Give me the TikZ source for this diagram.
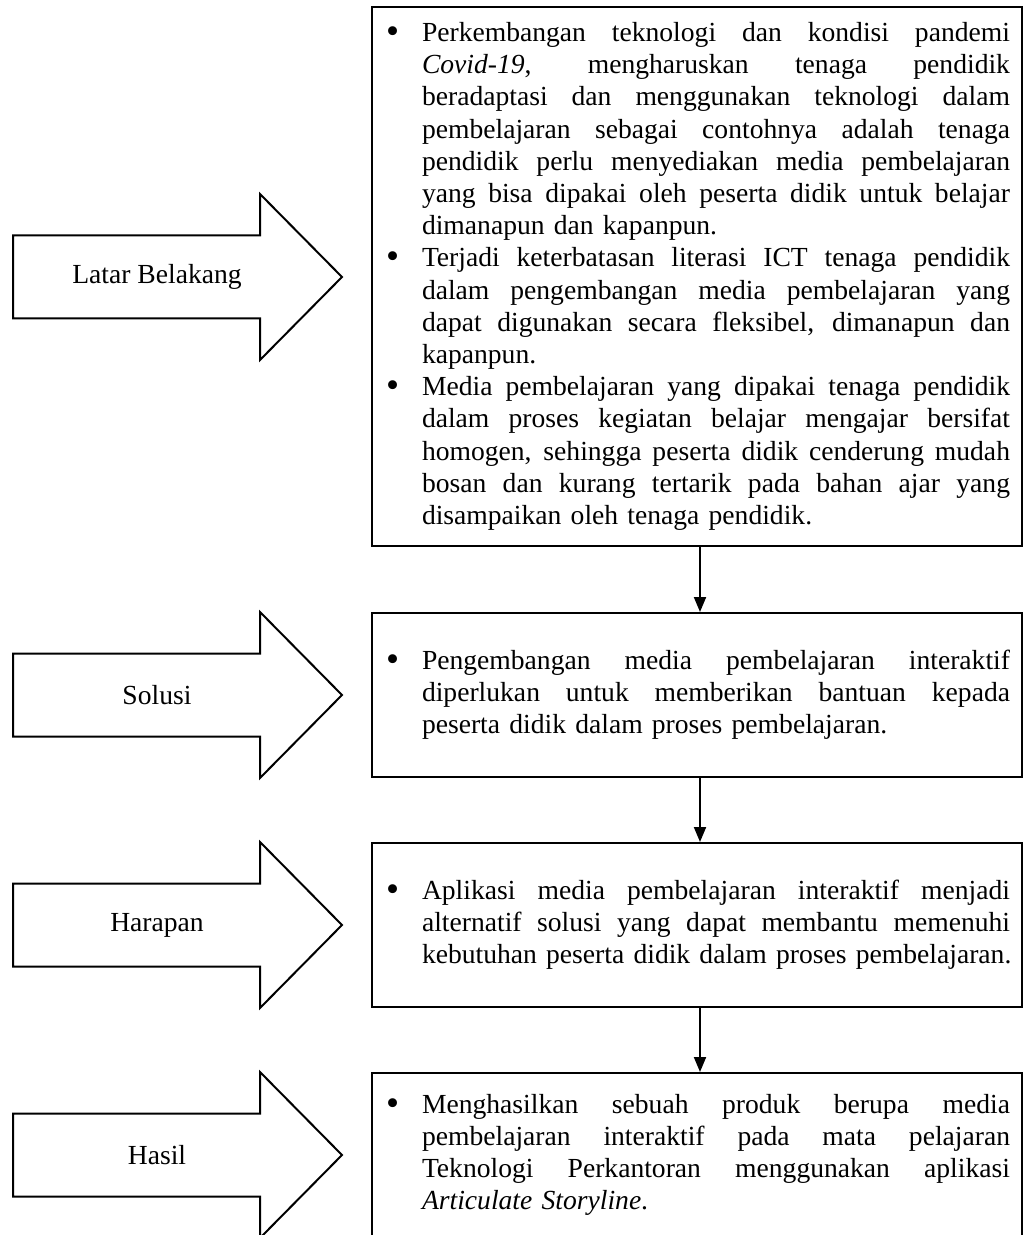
\documentclass[tikz,border=0pt]{standalone}
\usepackage{fontspec}
\setmainfont{Liberation Serif}
\usetikzlibrary{arrows.meta}
\newlength\lw \setlength\lw{294pt}
\newcommand\bul{\makebox[19pt][l]{\hspace{1pt}\raisebox{-0.15ex}{\scalebox{1.35}{\textbullet}}}}
\newcommand\ind{\hspace*{19pt}}
\newcommand\jl[1]{\hbox to\lw{\spaceskip=\fontdimen2\font plus 1fil\relax\xspaceskip=\spaceskip #1}}
\newcommand\lastln[1]{\mbox{#1}}
\begin{document}
\begin{tikzpicture}[x=0.5pt,y=-0.5pt,
  txt/.style={font=\fontsize{13.8}{16.1}\selectfont},
  box/.style={draw,line width=1pt,txt,align=left,text width=313pt,inner xsep=6pt,inner ysep=0pt},
  blk/.style={draw,line width=1pt,line join=miter},
  conn/.style={line width=1pt,-{Triangle[width=6pt,length=7.5pt]}}]
\useasboundingbox (0,0) rectangle (1024,1235);
\clip (0,0) rectangle (1024,1235);
\foreach \yy/\lab/\nm in {277/Latar Belakang/a1, 695/Solusi/a2, 925/Harapan/a3, 1155/Hasil/a4}{
  \draw[blk] (13,\yy-41.5) -- (260,\yy-41.5) -- (260,\yy-83) -- (342,\yy) -- (260,\yy+83) -- (260,\yy+41.5) -- (13,\yy+41.5) -- cycle;
  \node[txt] (\nm) at (157,\yy) {\lab};
}
\node[box,minimum height=269.5pt] (b1) at (697,276.5) {%
\bul\jl{Perkembangan teknologi dan kondisi pandemi}\\
\ind\jl{\textit{Covid-19}, mengharuskan tenaga pendidik}\\
\ind\jl{beradaptasi dan menggunakan teknologi dalam}\\
\ind\jl{pembelajaran sebagai contohnya adalah tenaga}\\
\ind\jl{pendidik perlu menyediakan media pembelajaran}\\
\ind\jl{yang bisa dipakai oleh peserta didik untuk belajar}\\
\ind\lastln{dimanapun dan kapanpun.}\\
\bul\jl{Terjadi keterbatasan literasi ICT tenaga pendidik}\\
\ind\jl{dalam pengembangan media pembelajaran yang}\\
\ind\jl{dapat digunakan secara fleksibel, dimanapun dan}\\
\ind\lastln{kapanpun.}\\
\bul\jl{Media pembelajaran yang dipakai tenaga pendidik}\\
\ind\jl{dalam proses kegiatan belajar mengajar bersifat}\\
\ind\jl{homogen, sehingga peserta didik cenderung mudah}\\
\ind\jl{bosan dan kurang tertarik pada bahan ajar yang}\\
\ind\lastln{disampaikan oleh tenaga pendidik.}};
\node[box,minimum height=82pt] (b2) at (697,695) {%
\bul\jl{Pengembangan media pembelajaran interaktif}\\
\ind\jl{diperlukan untuk memberikan bantuan kepada}\\
\ind\lastln{peserta didik dalam proses pembelajaran.}};
\node[box,minimum height=82pt] (b3) at (697,925) {%
\bul\jl{Aplikasi media pembelajaran interaktif menjadi}\\
\ind\jl{alternatif solusi yang dapat membantu memenuhi}\\
\ind\lastln{kebutuhan peserta didik dalam proses pembelajaran.}};
\node[box,minimum height=82pt] (b4) at (697,1155) {%
\bul\jl{Menghasilkan sebuah produk berupa media}\\
\ind\jl{pembelajaran interaktif pada mata pelajaran}\\
\ind\jl{Teknologi Perkantoran menggunakan aplikasi}\\
\ind\lastln{\textit{Articulate Storyline}.}};
\draw[conn] ([xshift=1.5pt]b1.south) -- ([xshift=1.5pt]b2.north);
\draw[conn] ([xshift=1.5pt]b2.south) -- ([xshift=1.5pt]b3.north);
\draw[conn] ([xshift=1.5pt]b3.south) -- ([xshift=1.5pt]b4.north);
\end{tikzpicture}
\end{document}
